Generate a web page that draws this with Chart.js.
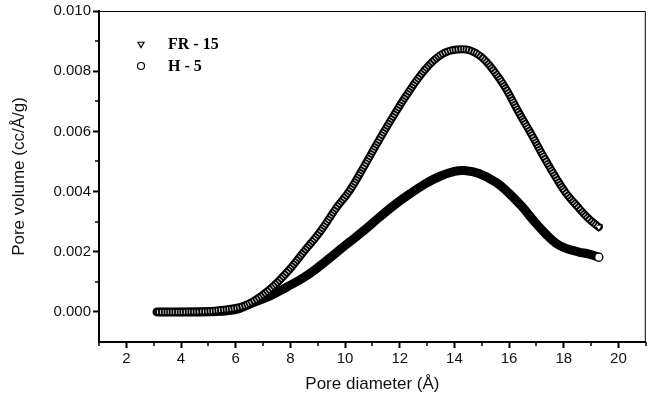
<!DOCTYPE html>
<html>
<head>
<meta charset="utf-8">
<script src="https://cdn.jsdelivr.net/npm/chart.js@4.4.1/dist/chart.umd.min.js"></script>
<style>
html,body{margin:0;padding:0;background:#fff;}
#wrap{width:651px;height:404px;position:relative;}
</style>
</head>
<body>
<div id="wrap"><canvas id="c" width="651" height="404"></canvas></div>
<script>
// ---- data ----
const fr15X = [3.12,4.69,5.42,6.15,6.62,7.24,7.86,8.52,9.07,9.69,10.16,10.71,11.26,11.80,12.24,12.72,13.19,13.63,14.10,14.54,14.98,15.45,15.89,16.36,16.84,17.28,17.72,18.08,18.55,18.92,19.28];
const fr15Y = [0.00000,0.00001,0.00006,0.00016,0.00034,0.00074,0.00130,0.00203,0.00264,0.00347,0.00402,0.00486,0.00574,0.00656,0.00719,0.00782,0.00831,0.00861,0.00872,0.00870,0.00848,0.00800,0.00741,0.00662,0.00586,0.00513,0.00445,0.00395,0.00345,0.00309,0.00282];
const h5X = [3.12,4.69,5.96,6.62,7.24,7.86,8.52,9.07,9.61,10.16,10.71,11.26,11.80,12.35,12.90,13.45,14.00,14.36,14.90,15.53,16.00,16.47,16.91,17.35,17.72,18.08,18.55,18.92,19.28];
const h5Y = [0.00000,0.00000,0.00007,0.00030,0.00052,0.00082,0.00116,0.00152,0.00192,0.00232,0.00272,0.00315,0.00355,0.00391,0.00424,0.00450,0.00467,0.00470,0.00460,0.00430,0.00394,0.00350,0.00302,0.00258,0.00228,0.00211,0.00199,0.00192,0.00182];
const seriesLabels = ['FR - 15', 'H - 5'];
const xTicks = [2,4,6,8,10,12,14,16,18,20];
const xMinorTicks = [1,3,5,7,9,11,13,15,17,19,21];
const yTicks = [0.000,0.002,0.004,0.006,0.008,0.010];
const yMinorTicks = [0.001,0.003,0.005,0.007,0.009];
const xTitle = 'Pore diameter (Å)';
const yTitle = 'Pore volume (cc/Å/g)';

function pts(xs, ys){ return xs.map((x,i)=>({x:x, y:ys[i]})); }

const lastRadius = (n, r) => (ctx) => ctx.dataIndex === n - 1 ? r : 0;

const minorTicksPlugin = {
  id: 'minorTicks',
  afterDraw(chart){
    const ctx = chart.ctx, a = chart.chartArea;
    const xs = chart.scales.x, ys = chart.scales.y;
    ctx.save();
    ctx.strokeStyle = '#000';
    ctx.lineWidth = 1.5;
    ctx.beginPath();
    xMinorTicks.forEach(v => { const p = Math.round(xs.getPixelForValue(v)); ctx.moveTo(p, a.bottom); ctx.lineTo(p, a.bottom + 4); });
    yMinorTicks.forEach(v => { const p = Math.round(ys.getPixelForValue(v)); ctx.moveTo(a.left, p); ctx.lineTo(a.left - 4, p); });
    ctx.stroke();
    // thin top and right frame
    ctx.lineWidth = 1;
    ctx.beginPath();
    ctx.moveTo(a.left, a.top + 0.5); ctx.lineTo(a.right - 0.5, a.top + 0.5); ctx.lineTo(a.right - 0.5, a.bottom);
    ctx.stroke();
    // legend inside plot
    const ds = chart.data.datasets;
    const rows = [44, 66];
    ds.forEach((d, i) => {
      ctx.strokeStyle = '#000';
      ctx.fillStyle = '#fff';
      ctx.lineWidth = 1.2;
      Chart.helpers.drawPoint(ctx, {pointStyle: d.pointStyle, rotation: d.rotation || 0, radius: 3.5, borderWidth: 1.2}, 141, rows[i]);
      ctx.fillStyle = '#000';
      ctx.font = 'bold 16px "Liberation Serif", "Times New Roman", serif';
      ctx.textBaseline = 'middle';
      ctx.fillText(d.label, 168, rows[i] + 1);
    });
    ctx.restore();
  }
};

const hatchPlugin = {
  id: 'hatch',
  afterDatasetDraw(chart, args){
    if (args.index !== 0) return;
    const el = args.meta.dataset;
    const ctx = chart.ctx;
    ctx.save();
    ctx.beginPath();
    el.path(ctx);
    ctx.strokeStyle = 'rgba(255,255,255,0.8)';
    ctx.lineWidth = 4;
    ctx.setLineDash([1, 1.7]);
    ctx.lineCap = 'butt';
    ctx.stroke();
    ctx.restore();
  }
};

new Chart(document.getElementById('c'), {
  type: 'scatter',
  data: {
    datasets: [
      {
        label: seriesLabels[0],
        data: pts(fr15X, fr15Y),
        showLine: true,
        borderColor: '#000',
        borderWidth: 8,
        borderCapStyle: 'round',
        tension: 0.4,
        pointStyle: 'triangle',
        rotation: 180,
        pointRadius: lastRadius(fr15X.length, 4),
        pointBackgroundColor: '#fff',
        pointBorderColor: '#000',
        pointBorderWidth: 1.2
      },
      {
        label: seriesLabels[1],
        data: pts(h5X, h5Y),
        showLine: true,
        borderColor: '#000',
        borderWidth: 9,
        borderCapStyle: 'round',
        tension: 0.4,
        pointStyle: 'circle',
        pointRadius: lastRadius(h5X.length, 4),
        pointBackgroundColor: '#fff',
        pointBorderColor: '#000',
        pointBorderWidth: 1.2
      }
    ]
  },
  options: {
    responsive: false,
    animation: false,
    devicePixelRatio: 1,
    layout: {padding: {left: 0, top: 10, right: 4, bottom: 0}},
    plugins: {legend: {display: false}, tooltip: {enabled: false}},
    scales: {
      x: {
        type: 'linear',
        min: 1, max: 21,
        afterBuildTicks: s => { s.ticks = xTicks.map(v => ({value: v})); },
        afterFit: s => { s.height = 62; },
        border: {display: true, color: '#000', width: 2},
        grid: {drawOnChartArea: false, drawTicks: true, tickLength: 6, tickColor: '#000', tickWidth: 2},
        ticks: {color: '#111', padding: 2, maxRotation: 0, font: {family: '"Liberation Sans", Arial, sans-serif', size: 15}},
        title: {display: true, text: xTitle, color: '#111', padding: {top: 0, bottom: 9}, font: {family: '"Liberation Sans", Arial, sans-serif', size: 17}}
      },
      y: {
        type: 'linear',
        min: -0.001, max: 0.010,
        afterBuildTicks: s => { s.ticks = yTicks.map(v => ({value: v})); },
        afterFit: s => { s.width = 99; },
        border: {display: true, color: '#000', width: 2},
        grid: {drawOnChartArea: false, drawTicks: true, tickLength: 6, tickColor: '#000', tickWidth: 2},
        ticks: {color: '#111', padding: 2, callback: v => Number(v).toFixed(3), font: {family: '"Liberation Sans", Arial, sans-serif', size: 15}},
        title: {display: true, text: yTitle, color: '#111', padding: {top: 9, bottom: 0}, font: {family: '"Liberation Sans", Arial, sans-serif', size: 17}}
      }
    }
  },
  plugins: [minorTicksPlugin, hatchPlugin]
});
</script>
</body>
</html>
